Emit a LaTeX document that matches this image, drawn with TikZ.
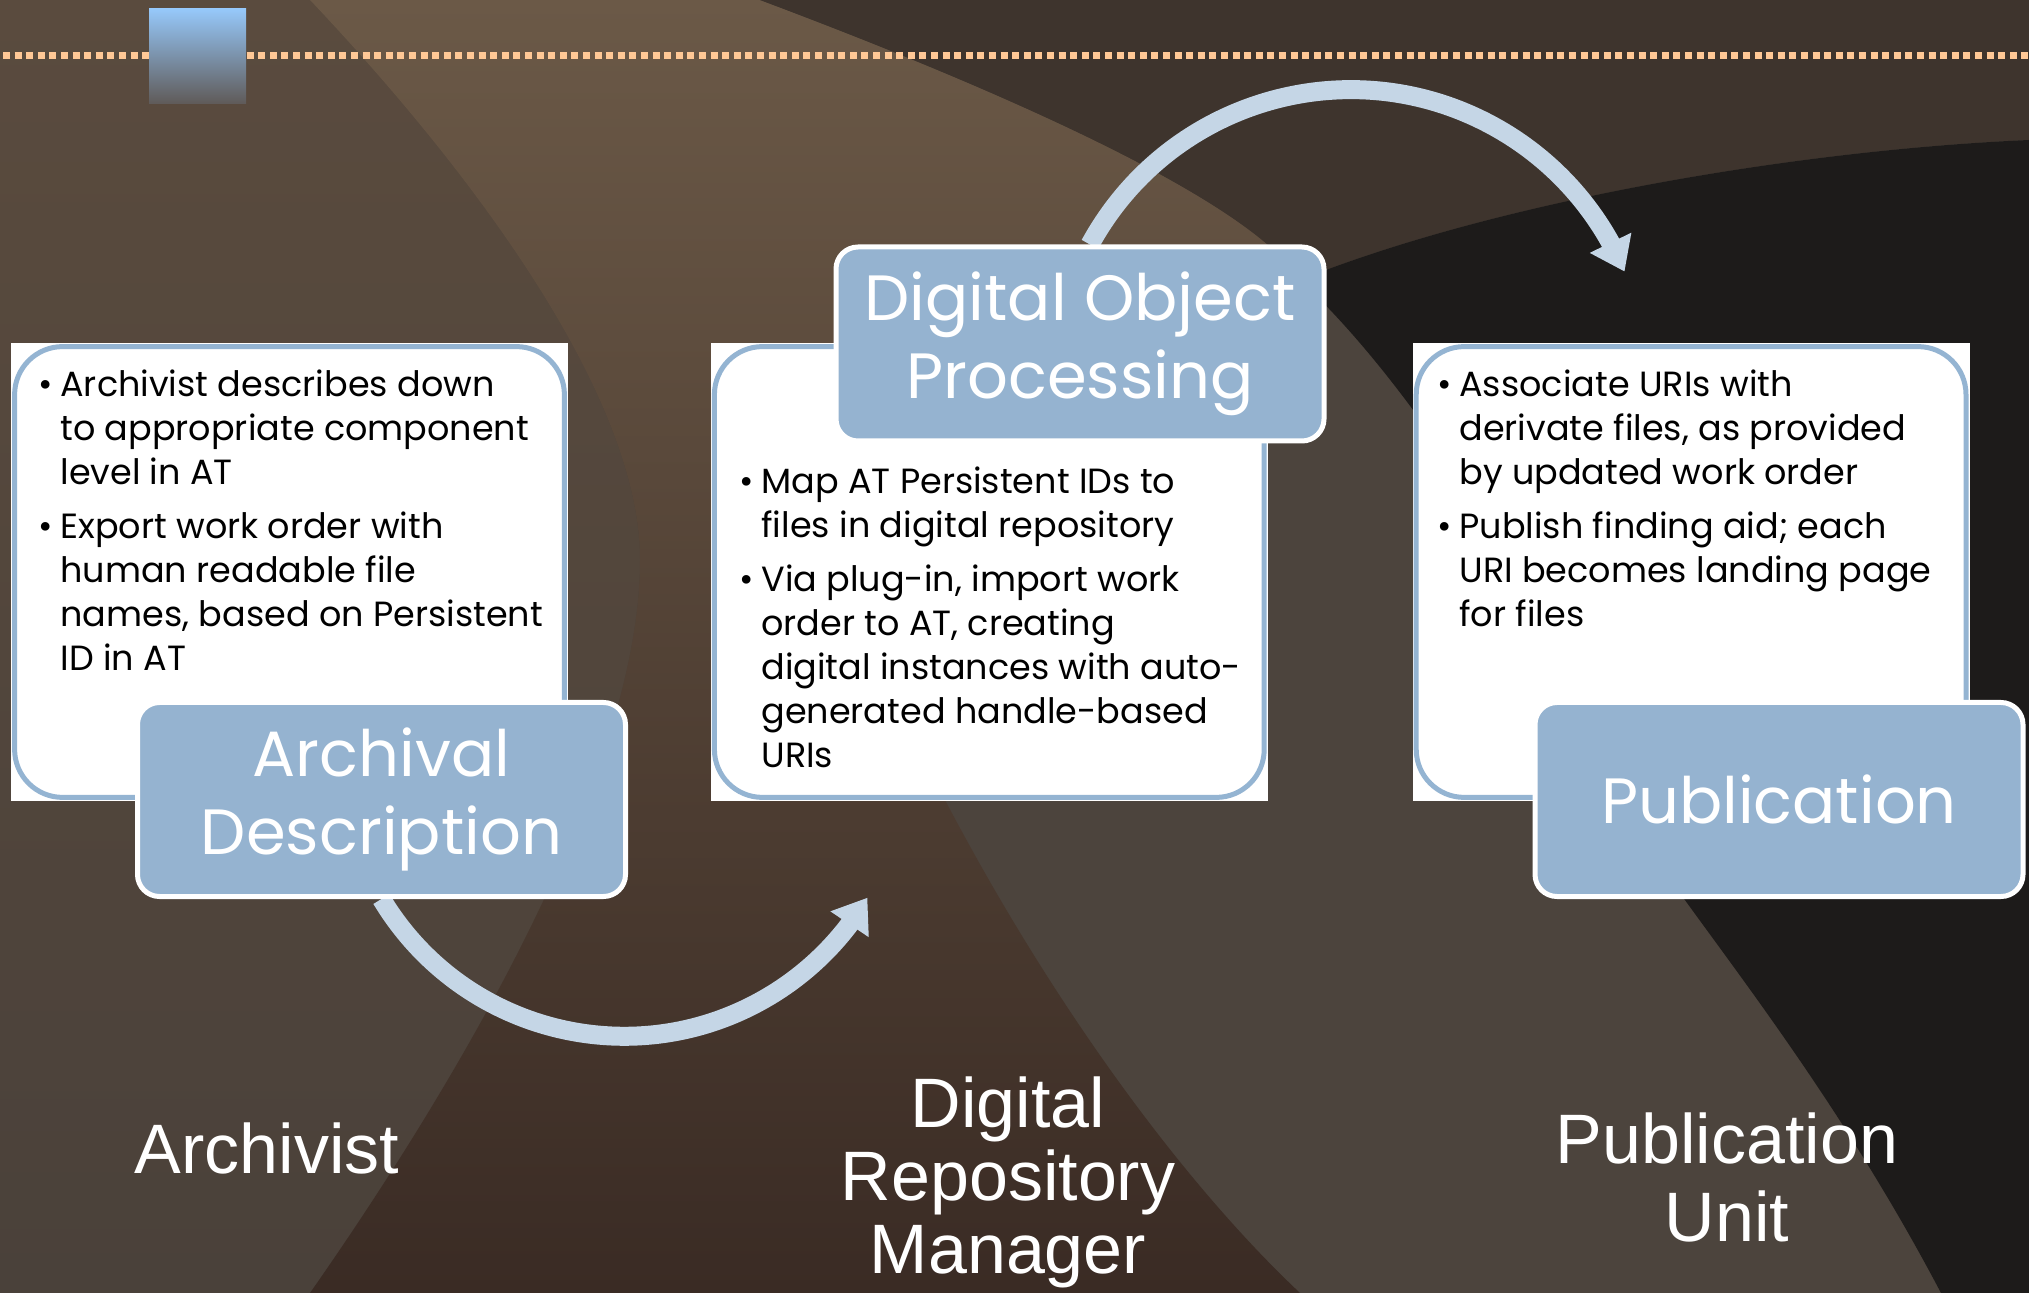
\documentclass[tikz,border=0pt]{standalone}
\usepackage{fontspec}
\usepackage{tikz}
\usetikzlibrary{positioning,arrows.meta,bending}
\newfontfamily\boxfont{Poppins}
\newfontfamily\rolefont{Liberation Sans}
\definecolor{rimblue}{RGB}{148,180,210}
\definecolor{tagblue}{RGB}{149,179,208}
\definecolor{flowblue}{RGB}{197,214,230}
\definecolor{dotpeach}{RGB}{255,200,150}
\definecolor{basegrey}{RGB}{76,68,61}
\definecolor{slopetop}{RGB}{90,75,62}
\definecolor{slopelow}{RGB}{74,65,58}
\definecolor{bandtop}{RGB}{107,89,71}
\definecolor{bandlow}{RGB}{58,43,36}
\definecolor{toprust}{RGB}{62,52,45}
\definecolor{nightgrey}{RGB}{29,27,26}
\pgfdeclarelayer{scenery}
\pgfdeclarelayer{links}
\pgfsetlayers{scenery,links,main}

\begin{document}
\begin{tikzpicture}[x=0.5pt,y=0.5pt,
		sheet/.style={ % white card behind the bullets
				rectangle, fill=white, inner sep=0pt,
				minimum width=278.5pt, minimum height=229pt
			},
		rim/.style={draw=rimblue, line width=2.5pt, rounded corners=24pt},
		tagbox/.style={ % blue title box
				rectangle, rounded corners=11pt, fill=tagblue, draw=white,
				line width=2.5pt, minimum width=244pt, minimum height=97pt,
				inner sep=0pt, text=white, align=center,
				font=\boxfont\fontsize{32pt}{39pt}\selectfont
			},
		bullets/.style={anchor=base west, inner sep=0pt,
				font=\boxfont\fontsize{17.5pt}{22pt}\selectfont},
		role/.style={anchor=base, inner sep=0pt, text=white,
				font=\rolefont\fontsize{35pt}{36.5pt}\selectfont},
		flowarrow/.style={draw=flowblue, line width=9.5pt,
				-{Triangle[width=22pt,length=16pt]}}
	]
	\useasboundingbox (0,0) rectangle (2029,-1293);
	% background
	\begin{pgfonlayer}{scenery}
		\fill[basegrey] (0,0) rectangle (2029,-1293);
		\shade[top color=slopetop, bottom color=slopelow]
		(0,0) -- (310,0) .. controls (480,-180) and (640,-400) .. (640,-560)
		.. controls (640,-760) and (480,-1050) .. (310,-1293) -- (0,-1293) -- cycle;
		\shade[top color=bandtop, bottom color=bandlow]
		(310,0) .. controls (480,-180) and (640,-400) .. (640,-560)
		.. controls (640,-760) and (480,-1050) .. (310,-1293) -- (1300,-1293)
		.. controls (1180,-1180) and (1050,-1000) .. (945,-800)
		.. controls (1100,-650) and (1330,-450) .. (1300,-280)
		.. controls (1250,-200) and (1000,-90) .. (760,0) -- cycle;
		\fill[toprust] (760,0) .. controls (1000,-90) and (1250,-200) .. (1300,-280)
		.. controls (1500,-200) and (1800,-150) .. (2029,-140) -- (2029,0) -- cycle;
		\fill[nightgrey] (1300,-280) .. controls (1500,-200) and (1800,-150) .. (2029,-140)
		-- (2029,-1293) -- (1941,-1293) .. controls (1850,-1120) and (1750,-990) .. (1682,-896)
		.. controls (1600,-700) and (1450,-420) .. (1300,-280) -- cycle;
		% dotted rule and square
		\draw[dotpeach, line width=3.5pt, dash pattern=on 3.5pt off 2.3pt] (3,-56) -- (2029,-56);
		\shade[top color={rgb,255:red,150;green,200;blue,250},
			bottom color={rgb,255:red,95;green,90;blue,88}] (149,-9) rectangle (246,-104);
	\end{pgfonlayer}

	% cards
	\node[sheet] (asheet) at (289.5,-572) {};
	\node[sheet, right=71pt of asheet] (dsheet) {};
	\node[sheet, right=72pt of dsheet] (psheet) {};
	\foreach \s in {asheet,dsheet,psheet}
	\draw[rim] ([shift={(4,4)}]\s.south west) rectangle ([shift={(-4,-4)}]\s.north east);

	% bullet texts
	\node[bullets] (atext) at (38,-397) {\begin{tabular}[t]{@{}p{11pt}@{}l@{}}
			\textbullet & Archivist describes down     \\
			            & to appropriate component     \\
			            & level in AT                  \\[5pt]
			\textbullet & Export work order with       \\
			            & human readable file          \\
			            & names, based on Persistent   \\
			            & ID in AT
		\end{tabular}};
	\node[bullets] (dtext) at (739,-494) {\begin{tabular}[t]{@{}p{11pt}@{}l@{}}
			\textbullet & Map AT Persistent IDs to     \\
			            & files in digital repository  \\[5pt]
			\textbullet & Via plug-in, import work     \\
			            & order to AT, creating        \\
			            & digital instances with auto- \\
			            & generated handle-based       \\
			            & URIs
		\end{tabular}};
	\node[bullets] (ptext) at (1437,-397) {\begin{tabular}[t]{@{}p{11pt}@{}l@{}}
			\textbullet & Associate URIs with          \\
			            & derivate files, as provided  \\
			            & by updated work order        \\[5pt]
			\textbullet & Publish finding aid; each    \\
			            & URI becomes landing page     \\
			            & for files
		\end{tabular}};

	% title boxes
	\node[tagbox] (adesc) at (381.5,-799.5) {Archival\\Description};
	\node[tagbox] (dop) at (1080,-344) {Digital Object\\Processing};
	\node[tagbox] (pub) at (1779,-799.5) {Publication};

	% arrows between steps
	\begin{pgfonlayer}{links}
		\draw[flowarrow] (adesc.south) arc[start angle=211, end angle=329.3, radius=283];
		\draw[flowarrow] ([xshift=5pt]dop.north) arc[start angle=151.4, end angle=22.8, radius=297];
	\end{pgfonlayer}

	% who does it
	\node[role] (arch) at (267,-1173) {Archivist};
	\node[role] (drm) at (1008,-1127) {\begin{tabular}[t]{@{}c@{}}Digital\\Repository\\Manager\end{tabular}};
	\node[role, font=\rolefont\fontsize{35pt}{39pt}\selectfont] (pubu) at (1727,-1163)
	{\begin{tabular}[t]{@{}c@{}}Publication\\Unit\end{tabular}};
\end{tikzpicture}
\end{document}
